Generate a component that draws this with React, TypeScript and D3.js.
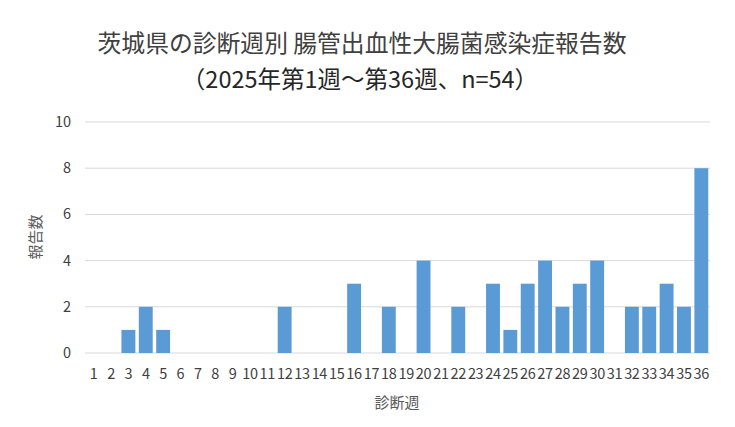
import React from "react";
import * as d3 from "d3";

const weeks: string[] = Array.from({ length: 36 }, (_, i) => String(i + 1));
const counts: number[] = [0, 0, 1, 2, 1, 0, 0, 0, 0, 0, 0, 2, 0, 0, 0, 3, 0, 2, 0, 4, 0, 2, 0, 3, 1, 3, 4, 2, 3, 4, 0, 2, 2, 3, 2, 8];
const yTicks: number[] = [0, 2, 4, 6, 8, 10];
const titleLine1 = "茨城県の診断週別 腸管出血性大腸菌感染症報告数";
const titleLine2 = "（2025年第1週～第36週、n=54）";
const xLabel = "診断週";
const yLabel = "報告数";

export default function App() {
  const W = 735, H = 427;
  const left = 85, right = 710, top = 122, bottom = 353;
  const x = d3.scaleBand<string>().domain(weeks).range([left, right]).paddingInner(0.2).paddingOuter(0.1);
  const y = d3.scaleLinear().domain([0, 10]).range([bottom, top]);
  const font = "'Noto Sans CJK JP', 'Noto Sans', sans-serif";
  return (
    <svg width={W} height={H} style={{ position: "absolute", left: 0, top: 0, background: "#fff" }} fontFamily={font}>
      <rect x={0} y={0} width={W} height={H} fill="#fff" />
      {yTicks.map((t) => (
        <g key={t}>
          <line x1={left} x2={right} y1={y(t)} y2={y(t)} stroke="#d9d9d9" strokeWidth={1} />
          <text x={71} y={y(t)} dy="0.35em" textAnchor="end" fontSize={14.5} fill="#404040">{t}</text>
        </g>
      ))}
      {weeks.map((w, i) => (
        counts[i] > 0 ? (
          <rect key={w} x={x(w)} y={y(counts[i])} width={x.bandwidth()} height={y(0) - y(counts[i])} fill="#5b9bd5" />
        ) : null
      ))}
      {weeks.map((w) => (
        <text key={"l" + w} x={(x(w) as number) + x.bandwidth() / 2} y={378.5} textAnchor="middle" fontSize={14.5} fill="#404040" letterSpacing={-0.3}>{w}</text>
      ))}
      <text x={362} y={52} textAnchor="middle" fontSize={23.8} fill="#404040">{titleLine1}</text>
      <text x={360} y={88} textAnchor="middle" fontSize={23.5} fill="#262626">{titleLine2}</text>
      <text x={397} y={408} textAnchor="middle" fontSize={15} fill="#595959">{xLabel}</text>
      <text transform={`translate(41,${237}) rotate(-90)`} textAnchor="middle" fontSize={15} fill="#595959">{yLabel}</text>
    </svg>
  );
}
